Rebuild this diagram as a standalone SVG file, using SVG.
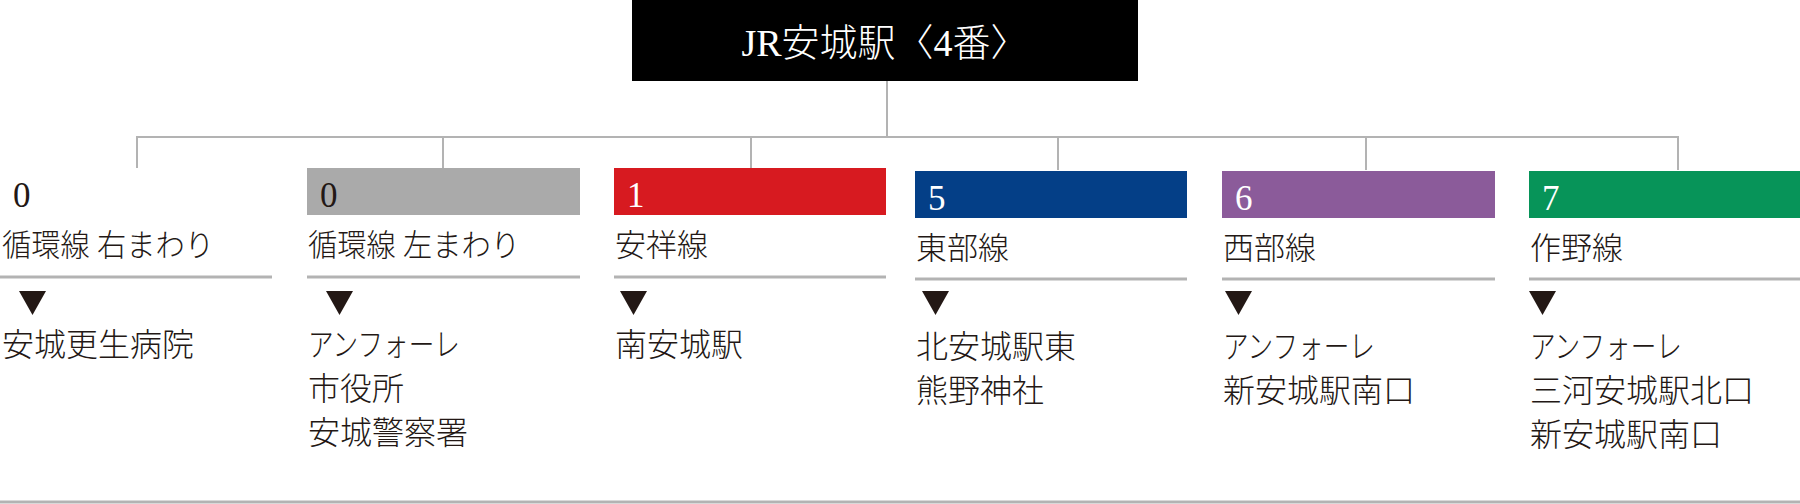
<svg xmlns="http://www.w3.org/2000/svg" width="1800" height="504" viewBox="0 0 1800 504">
<style>
.t{font-family:"Liberation Serif","Noto Sans CJK JP",serif;font-weight:300;fill:#231815}
.title{font-size:38px;fill:#ffffff}
.num{font-size:35px;fill:#ffffff}
.num0{font-size:35px;fill:#231815}
.name{font-size:31px}
.dest{font-size:32px}
.ln{stroke:#b3b3b3;stroke-width:2;fill:none}
.sep{stroke:#b3b3b3;stroke-width:3;fill:none}
.tri{fill:#231815}
</style>
<defs>
<polygon id="tri" points="0,0 27,0 13.5,24" class="tri"/>
</defs>
<g id="connectors">
<line class="ln" x1="887" y1="80" x2="887" y2="137"/>
<line class="ln" x1="136" y1="137" x2="1679" y2="137"/>
<line class="ln" x1="137" y1="137" x2="137" y2="168"/>
<line class="ln" x1="443" y1="137" x2="443" y2="168"/>
<line class="ln" x1="751" y1="137" x2="751" y2="168"/>
<line class="ln" x1="1058" y1="137" x2="1058" y2="170"/>
<line class="ln" x1="1366" y1="137" x2="1366" y2="170"/>
<line class="ln" x1="1678" y1="137" x2="1678" y2="170"/>
</g>
<g id="title">
<rect x="632" y="0" width="506" height="81" fill="#000000"/>
<text class="t title" x="885" y="56" text-anchor="middle">JR安城駅〈4番〉</text>
</g>
<g id="col0">
<text class="t num0" x="13" y="207">0</text>
<text class="t name" x="2" y="256" textLength="212" lengthAdjust="spacingAndGlyphs">循環線 右まわり</text>
<line class="sep" x1="0" y1="277" x2="272" y2="277"/>
<use href="#tri" x="19" y="291"/>
<text class="t dest" x="2" y="356">安城更生病院</text>
</g>
<g id="col1">
<rect x="307" y="168" width="273" height="47" fill="#aaaaaa"/>
<text class="t num0" x="320" y="207">0</text>
<text class="t name" x="308" y="256" textLength="212" lengthAdjust="spacingAndGlyphs">循環線 左まわり</text>
<line class="sep" x1="307" y1="277" x2="580" y2="277"/>
<use href="#tri" x="326" y="291"/>
<text class="t dest" x="308" y="356" textLength="152" lengthAdjust="spacingAndGlyphs">アンフォーレ</text>
<text class="t dest" x="308" y="400">市役所</text>
<text class="t dest" x="308" y="444">安城警察署</text>
</g>
<g id="col2">
<rect x="614" y="168" width="272" height="47" fill="#d71a20"/>
<text class="t num" x="627" y="207">1</text>
<text class="t name" x="615" y="256">安祥線</text>
<line class="sep" x1="614" y1="277" x2="886" y2="277"/>
<use href="#tri" x="620" y="291"/>
<text class="t dest" x="615" y="356">南安城駅</text>
</g>
<g id="col3">
<rect x="915" y="171" width="272" height="47" fill="#043f87"/>
<text class="t num" x="928" y="210">5</text>
<text class="t name" x="916" y="259">東部線</text>
<line class="sep" x1="915" y1="279" x2="1187" y2="279"/>
<use href="#tri" x="922" y="291"/>
<text class="t dest" x="916" y="358">北安城駅東</text>
<text class="t dest" x="916" y="402">熊野神社</text>
</g>
<g id="col4">
<rect x="1222" y="171" width="273" height="47" fill="#8b5b9a"/>
<text class="t num" x="1235" y="210">6</text>
<text class="t name" x="1223" y="259">西部線</text>
<line class="sep" x1="1222" y1="279" x2="1495" y2="279"/>
<use href="#tri" x="1225" y="291"/>
<text class="t dest" x="1223" y="358" textLength="152" lengthAdjust="spacingAndGlyphs">アンフォーレ</text>
<text class="t dest" x="1223" y="402">新安城駅南口</text>
</g>
<g id="col5">
<rect x="1529" y="171" width="271" height="47" fill="#079459"/>
<text class="t num" x="1542" y="210">7</text>
<text class="t name" x="1530" y="259">作野線</text>
<line class="sep" x1="1529" y1="279" x2="1800" y2="279"/>
<use href="#tri" x="1529" y="291"/>
<text class="t dest" x="1530" y="358" textLength="152" lengthAdjust="spacingAndGlyphs">アンフォーレ</text>
<text class="t dest" x="1530" y="402">三河安城駅北口</text>
<text class="t dest" x="1530" y="446">新安城駅南口</text>
</g>
<line id="bottom-rule" class="sep" x1="0" y1="502" x2="1800" y2="502"/>
</svg>
